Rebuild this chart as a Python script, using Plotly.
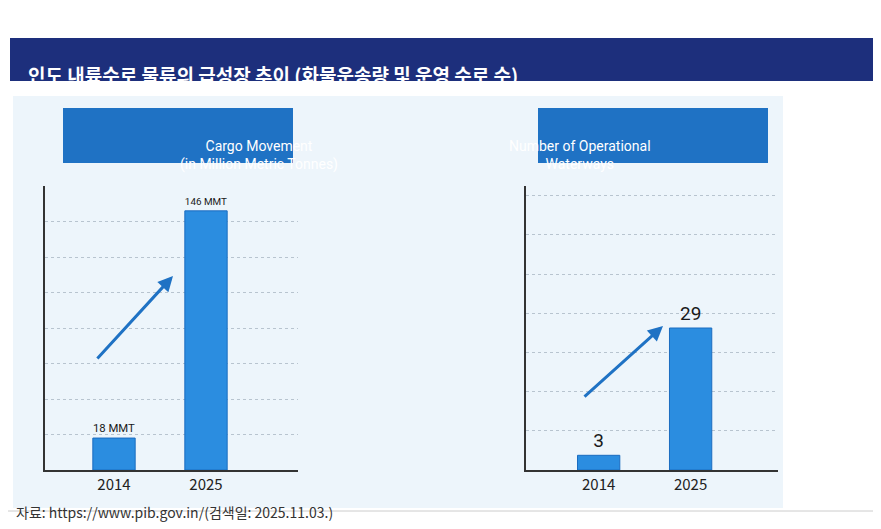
import plotly.graph_objects as go

W, H = 881, 529


def px(x):
    return x / W


def py(y):
    return 1 - y / H


years = ['2014', '2025']
cargo = [18, 146]  # MMT
waterways = [3, 29]

fig = go.Figure()

# 화물운송량
fig.add_trace(go.Bar(x=[0, 1], y=cargo, width=0.46, xaxis='x', yaxis='y',
                     marker=dict(color='#2b8de0', line=dict(color='#1a6cc0', width=1)),
                     text=[f'{v} MMT' for v in cargo], textposition='outside',
                     textfont=dict(size=16, color='#1a1a1a', family='Roboto'), cliponaxis=False))
# 운영 수로 수
fig.add_trace(go.Bar(x=[0, 1], y=waterways, width=0.46, xaxis='x2', yaxis='y2',
                     marker=dict(color='#2b8de0', line=dict(color='#1a6cc0', width=1)),
                     text=[str(v) for v in waterways], textposition='outside',
                     textfont=dict(size=19, color='#1a1a1a', family='Roboto'), cliponaxis=False))

axis_common = dict(showline=True, linecolor='#333', linewidth=2, zeroline=False)
fig.update_layout(
    width=W, height=H, margin=dict(l=0, r=0, t=0, b=0),
    paper_bgcolor='white', plot_bgcolor='rgba(0,0,0,0)', showlegend=False,
    font=dict(family='Noto Sans CJK KR'),
    xaxis=dict(domain=[px(37), px(290)], range=[-0.75, 2.0], tickvals=[0, 1], ticktext=years,
               tickfont=dict(size=15, color='#222'), showgrid=False, anchor='y', **axis_common),
    yaxis=dict(domain=[py(462), py(178)], range=[0, 160], dtick=20, showticklabels=False,
               gridcolor='#b8c4cf', griddash='dot', anchor='x', **axis_common),
    xaxis2=dict(domain=[px(518), px(770)], range=[-0.79, 1.95], tickvals=[0, 1], ticktext=years,
                tickfont=dict(size=15, color='#222'), showgrid=False, anchor='y2', **axis_common),
    yaxis2=dict(domain=[py(462), py(178)], range=[0, 58], dtick=8, showticklabels=False,
                gridcolor='#b8c4cf', griddash='dot', anchor='x2', **axis_common),
)

shapes = [
    dict(type='rect', xref='paper', yref='paper', x0=px(5), x1=px(775), y0=py(500), y1=py(88),
         fillcolor='#edf5fb', line=dict(width=0), layer='below'),
    dict(type='rect', xref='paper', yref='paper', x0=px(2), x1=px(880), y0=py(73), y1=py(30),
         fillcolor='#1d2f7c', line=dict(width=0)),
    dict(type='rect', xref='paper', yref='paper', x0=px(55), x1=px(285), y0=py(155), y1=py(100),
         fillcolor='#1f72c4', line=dict(width=0)),
    dict(type='rect', xref='paper', yref='paper', x0=px(530), x1=px(760), y0=py(155), y1=py(100),
         fillcolor='#1f72c4', line=dict(width=0)),
    dict(type='line', xref='paper', yref='paper', x0=0, x1=1, y0=py(503), y1=py(503),
         line=dict(color='#ccc', width=1)),
]
fig.update_layout(shapes=shapes)

ann = [
    dict(x=px(18), y=py(51), text='<b>인도 내륙수로 물류의 급성장 추이 (화물운송량 및 운영 수로 수)</b>',
         xanchor='left', font=dict(size=19, color='white')),
    dict(x=px(170), y=py(128), text='Cargo Movement<br>(in Million Metric Tonnes)',
         font=dict(size=14, color='white', family='Roboto')),
    dict(x=px(645), y=py(128), text='Number of Operational<br>Waterways',
         font=dict(size=14, color='white', family='Roboto')),
    dict(x=px(6), y=py(516), text='자료: https://www.pib.gov.in/(검색일: 2025.11.03.)',
         xanchor='left', font=dict(size=14, color='#333')),
    dict(x=px(165), y=py(268), ax=-77, ay=84, text='',
         showarrow=True, arrowhead=2, arrowwidth=3, arrowcolor='#1f72c4'),
    dict(x=px(655), y=py(318), ax=-80, ay=72, text='',
         showarrow=True, arrowhead=2, arrowwidth=3, arrowcolor='#1f72c4'),
]
for a in ann:
    a.setdefault('xref', 'paper')
    a.setdefault('yref', 'paper')
    a.setdefault('showarrow', False)
fig.update_layout(annotations=ann)

fig.write_html('out.html')
